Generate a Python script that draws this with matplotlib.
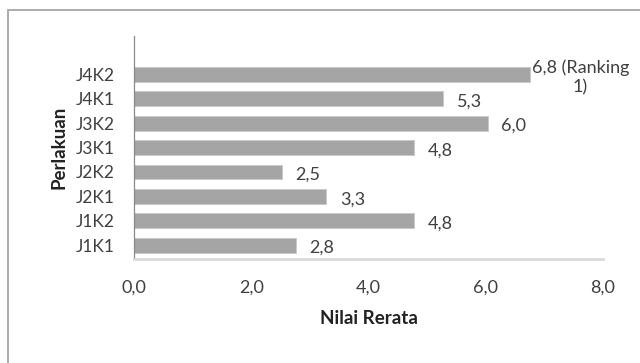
import numpy as np
import matplotlib
matplotlib.use('Agg')
import matplotlib.pyplot as plt
from matplotlib.patches import Rectangle

plt.rcParams['font.family'] = ['Lato', 'DejaVu Sans']

# data, bottom to top as drawn
categories = ['J1K1', 'J1K2', 'J2K1', 'J2K2', 'J3K1', 'J3K2', 'J4K1', 'J4K2']
values = [2.76, 4.77, 3.28, 2.52, 4.77, 6.03, 5.27, 6.76]
labels = ['2,8', '4,8', '3,3', '2,5', '4,8', '6,0', '5,3', '6,8 (Ranking\n1)']
xticks = [0, 2, 4, 6, 8]
xticklabels = ['0,0', '2,0', '4,0', '6,0', '8,0']

txt = '#3f3f3f'

fig = plt.figure(figsize=(6.4, 3.63), dpi=100)
fig.patch.set_facecolor('white')

# outer chart frame (runs off the right and bottom of the picture)
fig.patches.append(Rectangle((8 / 640, -1), 2, 1 - 10 / 363 + 1, transform=fig.transFigure,
                             fill=False, edgecolor='#a6a6a6', linewidth=1.3))

ax = fig.add_axes([134 / 640, 1 - 259 / 363, 469 / 640, 223 / 363])
y = np.arange(len(categories))
ax.barh(y, values, height=0.61, color='#a5a5a5', edgecolor='#c8c8c8', linewidth=0.6)

ax.set_xlim(0, 8)
ax.set_ylim(-0.57, 8.58)
ax.set_xticks(xticks)
ax.set_xticklabels(xticklabels)
ax.set_yticks(y)
ax.set_yticklabels(categories)
ax.tick_params(axis='both', length=0, labelsize=13, colors=txt)
ax.tick_params(axis='y', labelsize=12.5, pad=14)
ax.tick_params(axis='x', pad=15)

for s in ['top', 'right']:
    ax.spines[s].set_visible(False)
ax.spines['left'].set_color('#8a8a8a')
ax.spines['left'].set_linewidth(0.9)
ax.spines['bottom'].set_color('#d9d9d9')
ax.spines['bottom'].set_linewidth(2)

for i, (v, lab) in enumerate(zip(values, labels)):
    if '\n' in lab:
        ax.annotate(lab, (v, i), xytext=(1, -2), textcoords='offset points',
                    ha='left', va='center', multialignment='center',
                    fontsize=13, color=txt, annotation_clip=False,
                    linespacing=1.2)
    else:
        ax.annotate(lab, (v, i), xytext=(10, -2), textcoords='offset points',
                    ha='left', va='center', fontsize=13, color=txt)

ax.set_xlabel('Nilai Rerata', fontsize=13.5, fontweight='bold', color='#222222', labelpad=10)
ax.set_ylabel('Perlakuan', fontsize=13.5, fontweight='bold', color='#222222', labelpad=6)

fig.savefig('out.png', dpi=100, facecolor='white')
